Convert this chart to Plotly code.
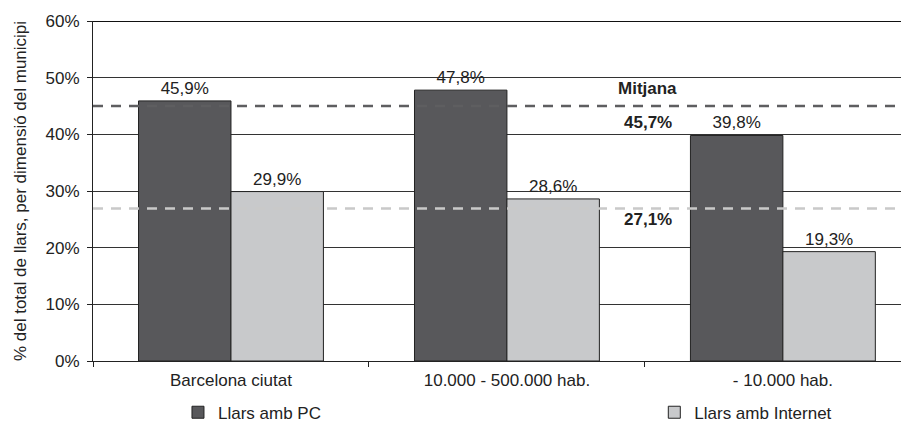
import plotly.graph_objects as go

categories = ["Barcelona ciutat", "10.000 - 500.000 hab.", "- 10.000 hab."]
pc_values = [45.9, 47.8, 39.8]
internet_values = [29.9, 28.6, 19.3]
series_names = ["Llars amb PC", "Llars amb Internet"]
mean_line_values = [45.0, 26.9]
mean_labels = ["45,7%", "27,1%"]
y_ticks = [0, 10, 20, 30, 40, 50, 60]
y_tick_labels = ["0%", "10%", "20%", "30%", "40%", "50%", "60%"]

FONT = "Liberation Sans, Arial, sans-serif"
FS = 17
DARK = "#58585b"
LIGHT = "#c8c9cb"
TXT = "#222222"


def fmt(v):
    return f"{v:.1f}".replace(".", ",") + "%"


fig = go.Figure()
fig.add_trace(go.Bar(
    x=categories, y=pc_values, name=series_names[0], legend="legend",
    marker=dict(color=DARK, line=dict(color=TXT, width=1)),
    text=[fmt(v) for v in pc_values], textposition="outside",
    textfont=dict(size=FS, color=TXT, family=FONT), cliponaxis=False,
))
fig.add_trace(go.Bar(
    x=categories, y=internet_values, name=series_names[1], legend="legend2",
    marker=dict(color=LIGHT, line=dict(color=TXT, width=1)),
    text=[fmt(v) for v in internet_values], textposition="outside",
    textfont=dict(size=FS, color=TXT, family=FONT), cliponaxis=False,
))

# mean lines
fig.add_shape(type="line", xref="paper", x0=0, x1=1, yref="y",
              y0=mean_line_values[0], y1=mean_line_values[0],
              line=dict(color="#5e5e60", width=2.5, dash="10px,8px"), layer="above")
fig.add_shape(type="line", xref="paper", x0=0, x1=1, yref="y",
              y0=mean_line_values[1], y1=mean_line_values[1],
              line=dict(color="#c9c9c9", width=2.5, dash="10px,8px"), layer="above")

for yv, txt in [(48.1, "Mitjana"), (42.1, mean_labels[0]), (25.0, mean_labels[1])]:
    fig.add_annotation(x=1.51, y=yv, xref="x", yref="y", text="<b>" + txt + "</b>",
                       showarrow=False, font=dict(size=FS, color=TXT, family=FONT))

legend_common = dict(orientation="h", xanchor="left", yanchor="middle", itemwidth=30,
                     xref="container", yref="container",
                     font=dict(size=FS, color=TXT, family=FONT),
                     bgcolor="rgba(0,0,0,0)", borderwidth=0)

fig.update_layout(
    width=909, height=422,
    margin=dict(l=85, r=0, t=13, b=69, autoexpand=False),
    paper_bgcolor="white", plot_bgcolor="white",
    barmode="group", bargap=0.33, bargroupgap=0,
    font=dict(family=FONT, size=FS, color=TXT),
    showlegend=True,
    legend=dict(x=0.187, y=0.041, **legend_common),
    legend2=dict(x=0.711, y=0.041, **legend_common),
    xaxis=dict(range=[-0.5, 2.486], showline=True, linecolor=TXT, linewidth=1,
               ticks="outside", tickson="boundaries", ticklen=5, tickcolor=TXT,
               ticklabelstandoff=4,
               showgrid=False, tickfont=dict(size=FS, color=TXT), automargin=False),
    yaxis=dict(range=[0, 60], tickvals=y_ticks, ticktext=y_tick_labels,
               showline=True, linecolor=TXT, linewidth=1,
               ticks="outside", ticklen=5, tickcolor=TXT, ticklabelstandoff=4,
               showgrid=True, gridcolor="#333333", gridwidth=1, zeroline=False,
               tickfont=dict(size=FS, color=TXT), automargin=False,
               title=dict(text="% del total de llars, per dimensió del municipi",
                          font=dict(size=FS, color=TXT), standoff=14)),
)
# thicker top border at 60%
fig.add_shape(type="line", xref="paper", x0=0, x1=1, yref="y", y0=60, y1=60,
              line=dict(color="#111111", width=2), layer="above")

fig.write_html("out.html")
